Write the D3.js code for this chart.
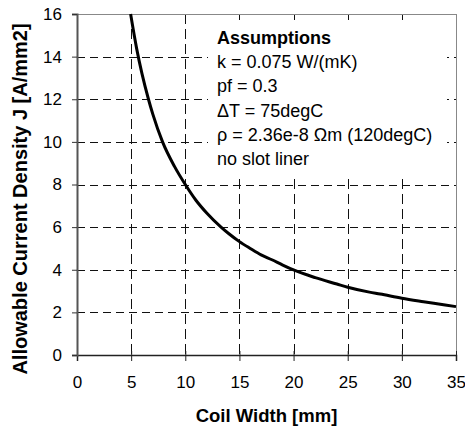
<!DOCTYPE html>
<html>
<head>
<meta charset="utf-8">
<script src="https://cdn.jsdelivr.net/npm/d3@7"></script>
<style>
  html, body { margin: 0; padding: 0; background: #fff; }
  svg { display: block; }
  text { font-family: "Liberation Sans", Arial, sans-serif; fill: #000; }
</style>
</head>
<body>
<div id="chart"></div>
<script>
// ----------------------------
// Data
// ----------------------------
const coilWidth = [4.95, 5.5, 6, 6.6, 7, 7.9, 9, 10, 11, 12, 13.3, 14, 15, 16, 17, 18, 19, 20, 22, 24, 25, 27, 28, 30, 32, 34, 35];
const currentDensity = [16.0, 14.4, 13.2, 12.0, 11.3, 10.0, 8.85, 8.0, 7.25, 6.65, 6.0, 5.7, 5.32, 5.0, 4.7, 4.47, 4.22, 3.99, 3.63, 3.33, 3.18, 2.95, 2.86, 2.66, 2.5, 2.35, 2.27];
const xTicks = [0, 5, 10, 15, 20, 25, 30, 35];
const yTicks = [0, 2, 4, 6, 8, 10, 12, 14, 16];
const assumptions = [
  'k = 0.075 W/(mK)',
  'pf = 0.3',
  '\u0394T = 75degC',
  '\u03C1 = 2.36e-8 \u03A9m (120degC)',
  'no slot liner'
];

const width = 465;
const height = 428;
const plot = { left: 77, right: 456, top: 14, bottom: 355 };

const svg = d3.select('#chart')
  .append('svg')
  .attr('width', width)
  .attr('height', height);

const x = d3.scaleLinear().domain([0, 35]).range([plot.left, plot.right]);
const y = d3.scaleLinear().domain([0, 16]).range([plot.bottom, plot.top]);

// ----------------------------
// Grid (dashed)
// ----------------------------
const grid = svg.append('g').attr('class', 'grid');

grid.selectAll('line.hgrid')
  .data(yTicks.filter(d => d > 0 && d < 16))
  .enter()
  .append('line')
  .attr('class', 'hgrid')
  .attr('x1', plot.left)
  .attr('x2', plot.right)
  .attr('y1', d => Math.round(y(d)) + 0.5)
  .attr('y2', d => Math.round(y(d)) + 0.5)
  .attr('stroke', '#111')
  .attr('stroke-width', 1)
  .attr('stroke-dasharray', '8 5');

grid.selectAll('line.vgrid')
  .data(xTicks.filter(d => d > 0 && d < 35))
  .enter()
  .append('line')
  .attr('class', 'vgrid')
  .attr('y1', plot.top)
  .attr('y2', plot.bottom)
  .attr('x1', d => Math.round(x(d)) + 0.5)
  .attr('x2', d => Math.round(x(d)) + 0.5)
  .attr('stroke', '#111')
  .attr('stroke-width', 1)
  .attr('stroke-dasharray', '10 5');

// ----------------------------
// Frame
// ----------------------------
svg.append('line')
  .attr('x1', plot.left).attr('x2', plot.right)
  .attr('y1', plot.top + 0.5).attr('y2', plot.top + 0.5)
  .attr('stroke', '#888');
svg.append('line')
  .attr('x1', plot.right + 0.5).attr('x2', plot.right + 0.5)
  .attr('y1', plot.top).attr('y2', plot.bottom)
  .attr('stroke', '#888');

// ----------------------------
// Axes
// ----------------------------
const xAxis = svg.append('g')
  .attr('transform', `translate(0,${plot.bottom})`)
  .call(d3.axisBottom(x).tickValues(xTicks).tickSize(6).tickPadding(15).tickFormat(d3.format('d')));
xAxis.select('.domain').attr('stroke', '#222').attr('stroke-width', 1.5);
xAxis.selectAll('.tick line').attr('stroke', '#222').attr('y1', -4);
xAxis.selectAll('.tick text')
  .style('font-family', '"Liberation Sans", Arial, sans-serif')
  .style('font-size', '17px')
  .attr('fill', '#000');

const yAxis = svg.append('g')
  .attr('transform', `translate(${plot.left},0)`)
  .call(d3.axisLeft(y).tickValues(yTicks).tickSize(5).tickPadding(10).tickFormat(d3.format('d')));
yAxis.select('.domain').attr('stroke', '#555').attr('stroke-width', 2);
yAxis.selectAll('.tick line').attr('stroke', '#333');
yAxis.selectAll('.tick text')
  .style('font-family', '"Liberation Sans", Arial, sans-serif')
  .style('font-size', '17px')
  .attr('fill', '#000');

// ----------------------------
// Curve
// ----------------------------
const line = d3.line()
  .curve(d3.curveMonotoneX)
  .x(d => x(d[0]))
  .y(d => y(d[1]));

svg.append('path')
  .datum(coilWidth.map((w, i) => [w, currentDensity[i]]))
  .attr('d', line)
  .attr('fill', 'none')
  .attr('stroke', '#000')
  .attr('stroke-width', 3)
  .attr('stroke-linejoin', 'round');

// ----------------------------
// Assumptions box (white, no border)
// ----------------------------
svg.append('rect')
  .attr('x', 208)
  .attr('y', 20)
  .attr('width', 239)
  .attr('height', 156)
  .attr('fill', '#fff');

const note = svg.append('g').attr('transform', 'translate(217,0)');
note.append('text')
  .attr('y', 44)
  .style('font-size', '18px')
  .style('font-weight', 'bold')
  .text('Assumptions');
note.selectAll('text.line')
  .data(assumptions)
  .enter()
  .append('text')
  .attr('class', 'line')
  .attr('y', (d, i) => 68 + i * 24.3)
  .style('font-size', '18px')
  .text(d => d);

// ----------------------------
// Axis titles
// ----------------------------
svg.append('text')
  .attr('x', (plot.left + plot.right) / 2)
  .attr('y', 422)
  .attr('text-anchor', 'middle')
  .style('font-size', '18.5px')
  .style('font-weight', 'bold')
  .text('Coil Width [mm]');

svg.append('text')
  .attr('transform', 'translate(27,199) rotate(-90)')
  .attr('text-anchor', 'middle')
  .style('font-size', '20px')
  .style('font-weight', 'bold')
  .text('Allowable Current Density J [A/mm2]');
</script>
</body>
</html>
